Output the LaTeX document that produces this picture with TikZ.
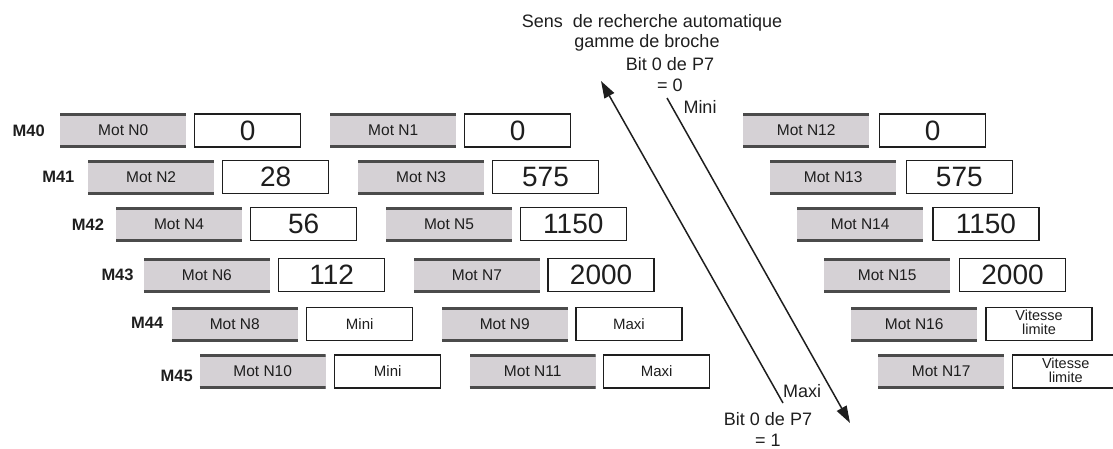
\documentclass[tikz,border=0pt]{standalone}
\usepackage{fontspec}
\setmainfont{Liberation Sans}
\usetikzlibrary{arrows.meta}
\definecolor{boxgray}{RGB}{213,209,213}
\definecolor{bardark}{RGB}{75,75,75}
\definecolor{inkc}{RGB}{30,30,30}
\newcommand{\numtxt}[1]{\fontsize{28}{28}\selectfont #1}
\newcommand{\smtxt}[1]{\fontsize{15}{15}\selectfont #1}
\newcommand{\vltxt}{\fontsize{14.5}{10.5}\selectfont\begin{tabular}{@{}c@{}}Vitesse\\limite\end{tabular}}
\begin{document}
\begin{tikzpicture}[x=1pt,y=-1pt,
 graybox/.style={minimum width=126pt,minimum height=34pt,inner sep=0pt,fill=boxgray,text=inkc,
   font=\fontsize{15.5}{15.5}\selectfont,
   path picture={\draw[bardark,line width=5pt]
     (path picture bounding box.north west)--(path picture bounding box.north east)
     (path picture bounding box.south west)--(path picture bounding box.south east);}},
 valbox/.style={minimum width=106pt,minimum height=33pt,inner sep=0pt,draw=inkc,line width=1.4pt,
   fill=white,text=inkc},
 rowlab/.style={font=\bfseries\fontsize{16.5}{16.5}\selectfont,text=inkc,anchor=east,inner sep=0pt},
 note/.style={font=\fontsize{18}{18}\selectfont,text=inkc,inner sep=0pt,anchor=base},
 sweep/.style={line width=1.5pt,draw=inkc}]
\useasboundingbox (0,0) rectangle (1113,448);
\foreach \i/\y/\ly/\ma/\va/\mb/\vb/\mc/\vc in {
  0/130.5/130.5/0/{\numtxt{0}}/1/{\numtxt{0}}/12/{\numtxt{0}},
  1/177/177/2/{\numtxt{28}}/3/{\numtxt{575}}/13/{\numtxt{575}},
  2/224/225/4/{\numtxt{56}}/5/{\numtxt{1150}}/14/{\numtxt{1150}},
  3/275/275/6/{\numtxt{112}}/7/{\numtxt{2000}}/15/{\numtxt{2000}},
  4/324/323/8/{\smtxt{Mini}}/9/{\smtxt{Maxi}}/16/{\vltxt},
  5/371.5/376/10/{\smtxt{Mini}}/11/{\smtxt{Maxi}}/17/{\vltxt}}
{
  \node[rowlab] (m\i) at ({45+29.6*\i},\ly) {M4\i};
  \node[graybox,anchor=west] (ga\i) at ({60+27.9*\i},\y) {Mot N\ma};
  \node[valbox,anchor=west] (va\i) at ({194+28*\i},\y) {\va};
  \node[graybox,anchor=west] (gb\i) at ({330+27.9*\i},\y) {Mot N\mb};
  \node[valbox,anchor=west] (vb\i) at ({464+27.8*\i},\y) {\vb};
  \node[graybox,anchor=west] (gc\i) at ({743+27*\i},\y) {Mot N\mc};
  \node[valbox,anchor=west] (vc\i) at ({879+26.6*\i},\y) {\vc};
}
% texts
\node[note] (t1) at (652,27) {Sens\ \ de recherche automatique};
\node[note] (t2) at (647,47) {gamme de broche};
\node[note] (t3) at (670,70) {Bit 0 de P7};
\node[note] (t4) at (670,91) {= 0};
\node[note] (t5) at (700,113) {Mini};
\node[note] (b1) at (802,397) {Maxi};
\node[note] (b2) at (768,425) {Bit 0 de P7};
\node[note] (b3) at (768,446) {= 1};
% arrows
\coordinate (aStart) at (783,403);
\coordinate (aEnd) at (601,81);
\coordinate (bStart) at (667,98);
\coordinate (bEnd) at (850,423);
\draw[sweep,-{Triangle[length=17pt,width=11pt]}] (aStart) -- (aEnd);
\draw[sweep,-{Triangle[length=17pt,width=11pt]}] (bStart) -- (bEnd);
\end{tikzpicture}
\end{document}
